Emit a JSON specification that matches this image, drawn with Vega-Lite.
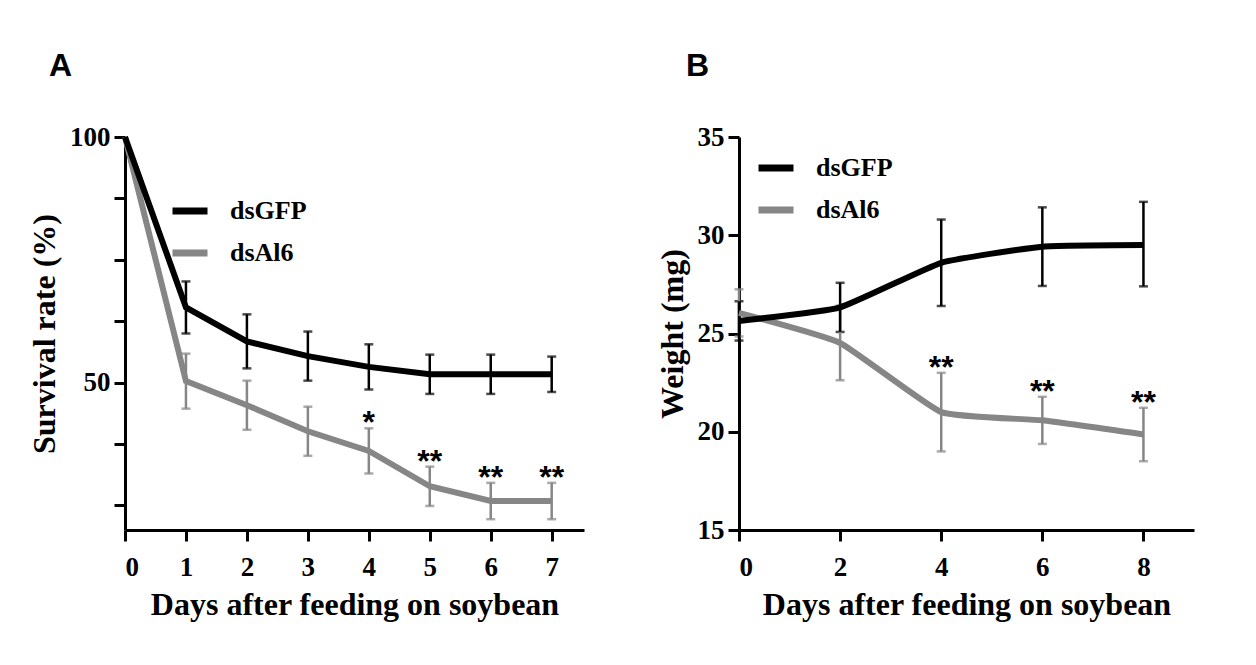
{
  "$schema": "https://vega.github.io/schema/vega-lite/v6.json",
  "background": "white",
  "padding": {"left": 28, "top": 50, "right": 10, "bottom": 5},
  "config": {
    "view": {"stroke": null},
    "axis": {
      "domainColor": "black", "domainWidth": 3, "tickColor": "black", "tickWidth": 3, "tickSize": 11,
      "labelFont": "Liberation Serif", "labelFontWeight": "bold", "labelFontSize": 27, "labelColor": "black", "labelPadding": 4,
      "titleFont": "Liberation Serif", "titleFontWeight": "bold", "titleFontSize": 32, "titleColor": "black",
      "grid": false
    },
    "legend": {
      "orient": "none", "title": null,
      "labelFont": "Liberation Serif", "labelFontWeight": "bold", "labelFontSize": 26, "labelColor": "black",
      "symbolType": "stroke", "symbolStrokeWidth": 7, "symbolSize": 1225, "symbolOpacity": 1, "labelOffset": 19, "rowPadding": 7
    },
    "title": {"font": "Liberation Sans", "fontWeight": "bold", "fontSize": 32, "color": "black", "anchor": "start", "frame": "group"}
  },
  "datasets": {
    "survival": [
      {"group": "dsAl6", "day": 0, "value": 100, "lo": null, "hi": null, "sig": ""},
      {"group": "dsAl6", "day": 1, "value": 50.3, "lo": 44.7, "hi": 55.9, "sig": ""},
      {"group": "dsAl6", "day": 2, "value": 45.4, "lo": 40.4, "hi": 50.4, "sig": ""},
      {"group": "dsAl6", "day": 3, "value": 40.1, "lo": 35.1, "hi": 45.1, "sig": ""},
      {"group": "dsAl6", "day": 4, "value": 36.1, "lo": 31.5, "hi": 40.7, "sig": "*"},
      {"group": "dsAl6", "day": 5, "value": 28.9, "lo": 24.9, "hi": 32.9, "sig": "**"},
      {"group": "dsAl6", "day": 6, "value": 25.9, "lo": 22.2, "hi": 29.6, "sig": "**"},
      {"group": "dsAl6", "day": 7, "value": 25.9, "lo": 22.2, "hi": 29.6, "sig": "**"},
      {"group": "dsGFP", "day": 0, "value": 100, "lo": null, "hi": null, "sig": ""},
      {"group": "dsGFP", "day": 1, "value": 65.3, "lo": 60.0, "hi": 70.6, "sig": ""},
      {"group": "dsGFP", "day": 2, "value": 58.4, "lo": 52.9, "hi": 63.9, "sig": ""},
      {"group": "dsGFP", "day": 3, "value": 55.4, "lo": 50.4, "hi": 60.4, "sig": ""},
      {"group": "dsGFP", "day": 4, "value": 53.2, "lo": 48.6, "hi": 57.8, "sig": ""},
      {"group": "dsGFP", "day": 5, "value": 51.7, "lo": 47.7, "hi": 55.7, "sig": ""},
      {"group": "dsGFP", "day": 6, "value": 51.7, "lo": 47.7, "hi": 55.7, "sig": ""},
      {"group": "dsGFP", "day": 7, "value": 51.7, "lo": 48.1, "hi": 55.3, "sig": ""}
    ],
    "weight": [
      {"group": "dsAl6", "day": 0, "value": 26.05, "lo": 24.85, "hi": 27.25, "sig": ""},
      {"group": "dsAl6", "day": 2, "value": 24.52, "lo": 22.62, "hi": 26.42, "sig": ""},
      {"group": "dsAl6", "day": 4, "value": 21.0, "lo": 19.0, "hi": 23.0, "sig": "**"},
      {"group": "dsAl6", "day": 6, "value": 20.58, "lo": 19.38, "hi": 21.78, "sig": "**"},
      {"group": "dsAl6", "day": 8, "value": 19.86, "lo": 18.5, "hi": 21.22, "sig": "**"},
      {"group": "dsGFP", "day": 0, "value": 25.64, "lo": 24.64, "hi": 26.64, "sig": ""},
      {"group": "dsGFP", "day": 2, "value": 26.33, "lo": 25.08, "hi": 27.58, "sig": ""},
      {"group": "dsGFP", "day": 4, "value": 28.6, "lo": 26.4, "hi": 30.8, "sig": ""},
      {"group": "dsGFP", "day": 6, "value": 29.42, "lo": 27.42, "hi": 31.42, "sig": ""},
      {"group": "dsGFP", "day": 8, "value": 29.5, "lo": 27.4, "hi": 31.7, "sig": ""}
    ]
  },
  "spacing": 72,
  "resolve": {"legend": {"color": "independent"}, "scale": {"color": "independent"}},
  "hconcat": [
    {
      "width": 459, "height": 393,
      "title": {"text": "A", "dx": -76, "offset": 40},
      "data": {"name": "survival"},
      "encoding": {
        "x": {"field": "day", "type": "quantitative",
          "scale": {"domain": [0, 7.53], "nice": false, "zero": false},
          "axis": {"values": [0, 1, 2, 3, 4, 5, 6, 7], "title": "Days after feeding on soybean", "labelPadding": 13, "titlePadding": 9}},
        "color": {"field": "group", "type": "nominal",
          "scale": {"domain": ["dsGFP", "dsAl6"], "range": ["#000000", "#868686"]},
          "legend": {"legendX": 44, "legendY": 53}}
      },
      "layer": [
        {
          "transform": [{"filter": "datum.lo != null"}],
          "mark": {"type": "errorbar", "ticks": {"size": 9}, "thickness": 2.5},
          "encoding": {
            "y": {"field": "lo", "type": "quantitative",
              "scale": {"domain": [20, 100], "nice": false, "zero": false},
              "axis": {"values": [25, 37.5, 50, 62.5, 75, 87.5, 100],
                "labelExpr": "datum.value == 50 || datum.value == 100 ? datum.label : ''",
                "title": "Survival rate (%)", "titlePadding": 8}},
            "y2": {"field": "hi"}
          }
        },
        {
          "mark": {"type": "line", "strokeWidth": 6, "interpolate": "linear"},
          "encoding": {"y": {"field": "value", "type": "quantitative"}}
        },
        {
          "transform": [{"filter": "datum.sig != ''"}],
          "mark": {"type": "text", "font": "Liberation Sans", "fontWeight": "bold", "fontSize": 32, "baseline": "alphabetic", "dy": 5},
          "encoding": {"y": {"field": "hi", "type": "quantitative"}, "text": {"field": "sig"}, "color": {"value": "black"}}
        }
      ]
    },
    {
      "width": 455, "height": 393,
      "title": {"text": "B", "dx": -53, "offset": 40},
      "data": {"name": "weight"},
      "encoding": {
        "x": {"field": "day", "type": "quantitative",
          "scale": {"domain": [0, 9], "nice": false, "zero": false},
          "axis": {"values": [0, 2, 4, 6, 8], "title": "Days after feeding on soybean", "labelPadding": 13, "titlePadding": 9}},
        "color": {"field": "group", "type": "nominal",
          "scale": {"domain": ["dsGFP", "dsAl6"], "range": ["#000000", "#868686"]},
          "legend": {"legendX": 16, "legendY": 10}}
      },
      "layer": [
        {
          "mark": {"type": "errorbar", "ticks": {"size": 9}, "thickness": 2.5},
          "encoding": {
            "y": {"field": "lo", "type": "quantitative",
              "scale": {"domain": [15, 35], "nice": false, "zero": false},
              "axis": {"values": [15, 20, 25, 30, 35], "title": "Weight (mg)", "titlePadding": 8}},
            "y2": {"field": "hi"}
          }
        },
        {
          "mark": {"type": "line", "strokeWidth": 6, "interpolate": "cardinal", "tension": 0.6},
          "encoding": {"y": {"field": "value", "type": "quantitative"}}
        },
        {
          "transform": [{"filter": "datum.sig != ''"}],
          "mark": {"type": "text", "font": "Liberation Sans", "fontWeight": "bold", "fontSize": 32, "baseline": "alphabetic", "dy": 5},
          "encoding": {"y": {"field": "hi", "type": "quantitative"}, "text": {"field": "sig"}, "color": {"value": "black"}}
        }
      ]
    }
  ]
}
